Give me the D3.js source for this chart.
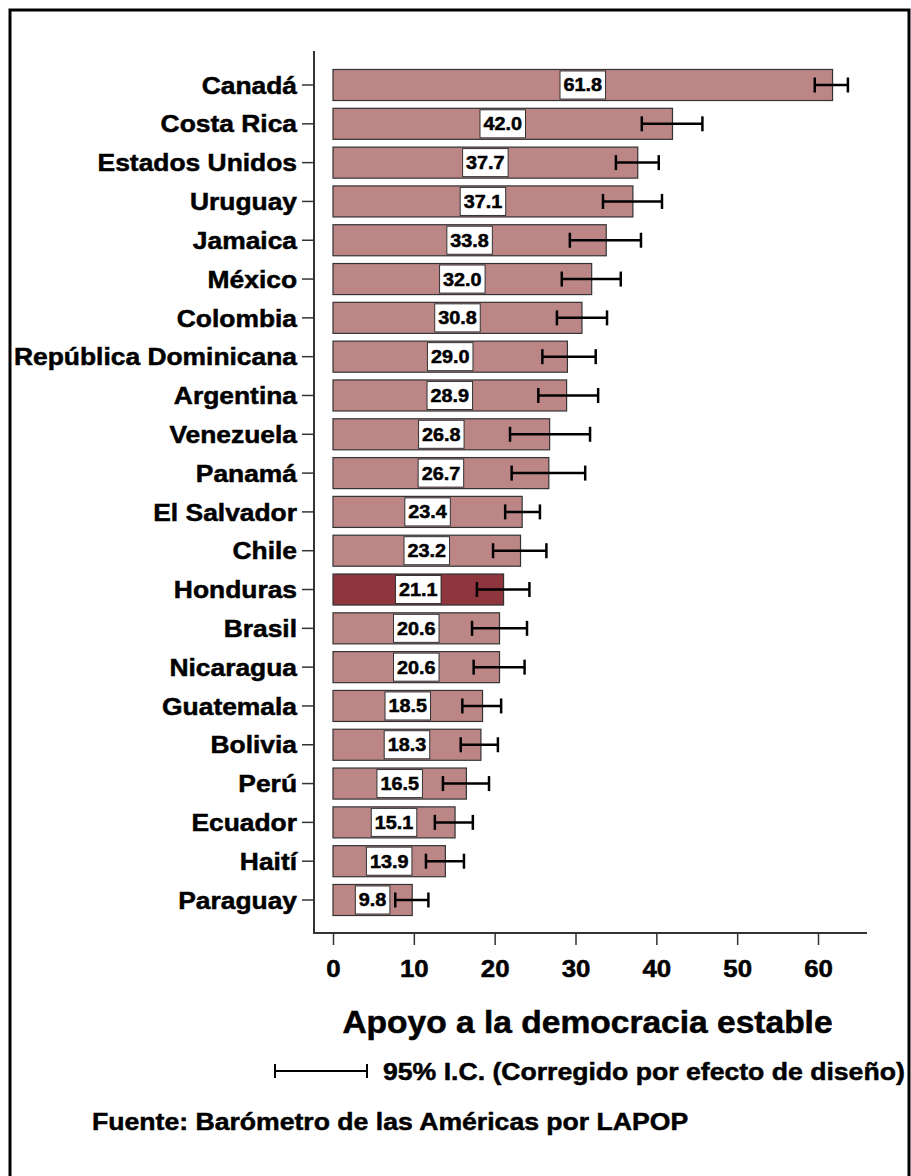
<!DOCTYPE html>
<html><head><meta charset="utf-8">
<script src="https://cdn.jsdelivr.net/npm/d3@7"></script>
<style>body{margin:0;background:#fff}svg{display:block}text{font-family:"Liberation Sans",Arial,sans-serif;font-weight:bold;fill:#000;stroke:#000;stroke-width:0.5px}</style>
</head><body>
<script>
const countries = ["Canadá","Costa Rica","Estados Unidos","Uruguay","Jamaica","México","Colombia","República Dominicana","Argentina","Venezuela","Panamá","El Salvador","Chile","Honduras","Brasil","Nicaragua","Guatemala","Bolivia","Perú","Ecuador","Haití","Paraguay"];
const values = [61.8,42.0,37.7,37.1,33.8,32.0,30.8,29.0,28.9,26.8,26.7,23.4,23.2,21.1,20.6,20.6,18.5,18.3,16.5,15.1,13.9,9.8];
const ciLow  = [59.6,38.2,35.0,33.4,29.3,28.3,27.7,25.9,25.4,21.9,22.1,21.3,19.8,17.8,17.2,17.4,16.0,15.8,13.6,12.6,11.5,7.7];
const ciHigh = [63.7,45.7,40.3,40.7,38.1,35.6,33.9,32.5,32.8,31.8,31.2,25.6,26.4,24.3,24.0,23.7,20.8,20.4,19.3,17.3,16.2,11.8];
const highlight = "Honduras";
const xTicks = [0,10,20,30,40,50,60];
const xTitle = "Apoyo a la democracia estable";
const legendText = "95% I.C. (Corregido por efecto de diseño)";
const sourceText = "Fuente: Barómetro de las Américas por LAPOP";

const W = 911, H = 1176, SX = 1.1;
const svg = d3.select("body").append("svg").attr("width", W).attr("height", H);

svg.append("rect").attr("x",10).attr("y",10).attr("width",899).attr("height",1200)
  .attr("fill","none").attr("stroke","#000").attr("stroke-width",3);

const x = d3.scaleLinear().domain([0,66]).range([333,866.5]);
const y = d3.scaleBand().domain(countries).range([65.6,919.4]).paddingInner(0.2).paddingOuter(0.1);

function stext(g, tx, ty, str, size, anchor){
  return g.append("text").attr("transform",`translate(${tx},${ty}) scale(${SX},1)`)
    .attr("font-size",size).attr("text-anchor",anchor||"start").text(str);
}

const axisColor = "#333";
svg.append("line").attr("x1",314).attr("x2",314).attr("y1",51).attr("y2",933).attr("stroke",axisColor).attr("stroke-width",2);
svg.append("line").attr("x1",313).attr("x2",867).attr("y1",933).attr("y2",933).attr("stroke",axisColor).attr("stroke-width",2);

const yAxis = d3.axisLeft(y).tickSize(12).tickPadding(5);
const gy = svg.append("g").attr("transform","translate(314,0)").call(yAxis);
gy.select(".domain").remove();
gy.selectAll(".tick line").attr("stroke",axisColor).attr("stroke-width",1.5);
gy.selectAll(".tick text").attr("font-size",24).attr("fill","#000")
  .attr("font-family",'"Liberation Sans",Arial,sans-serif').attr("font-weight","bold")
  .attr("transform",`scale(${SX},1)`).attr("x",-17/SX).attr("dy","0.36em");

const xAxis = d3.axisBottom(x).tickValues(xTicks).tickSize(12).tickPadding(14).tickFormat(d3.format("d"));
const gx = svg.append("g").attr("transform","translate(0,933)").call(xAxis);
gx.select(".domain").remove();
gx.selectAll(".tick line").attr("stroke",axisColor).attr("stroke-width",1.5);
gx.selectAll(".tick text").attr("font-size",23.5).attr("fill","#000")
  .attr("font-family",'"Liberation Sans",Arial,sans-serif').attr("font-weight","bold")
  .attr("transform",`scale(${SX},1)`).attr("dy","0.76em");

const data = countries.map((c,i)=>({c, v:values[i], lo:ciLow[i], hi:ciHigh[i]}));
const bars = svg.append("g");
bars.selectAll("rect").data(data).join("rect")
  .attr("x", x(0)).attr("y", d=>y(d.c))
  .attr("width", d=>x(d.v)-x(0)).attr("height", y.bandwidth())
  .attr("fill", d=>d.c===highlight ? "#8f353d" : "#bc8686")
  .attr("stroke","#333").attr("stroke-width",1.2);

const lab = svg.append("g");
data.forEach(d=>{
  const cx = (x(0)+x(d.v))/2, cy = y(d.c)+y.bandwidth()/2;
  const g = lab.append("g");
  const r = g.append("rect");
  const t = g.append("text").attr("transform",`translate(${cx},${cy}) scale(${SX},1)`)
    .attr("font-size",18).attr("text-anchor","middle").attr("dy","0.36em").text(d.v.toFixed(1));
  const w = t.node().getComputedTextLength()*SX + 7;
  r.attr("x",cx-w/2).attr("y",y(d.c)+1.5).attr("width",w).attr("height",y.bandwidth()-3)
   .attr("fill","#fff").attr("stroke","#333").attr("stroke-width",1);
});

const eb = svg.append("g").attr("stroke","#000").attr("stroke-width",2.5);
data.forEach(d=>{
  const cy = y(d.c)+y.bandwidth()/2;
  eb.append("line").attr("x1",x(d.lo)).attr("x2",x(d.hi)).attr("y1",cy).attr("y2",cy);
  eb.append("line").attr("x1",x(d.lo)).attr("x2",x(d.lo)).attr("y1",cy-7.5).attr("y2",cy+7.5);
  eb.append("line").attr("x1",x(d.hi)).attr("x2",x(d.hi)).attr("y1",cy-7.5).attr("y2",cy+7.5);
});

stext(svg, 587.5, 1033, xTitle, 30.5, "middle");

const lg = svg.append("g").attr("stroke","#000").attr("stroke-width",2);
lg.append("line").attr("x1",275).attr("x2",367).attr("y1",1071).attr("y2",1071);
lg.append("line").attr("x1",275).attr("x2",275).attr("y1",1064).attr("y2",1078);
lg.append("line").attr("x1",367).attr("x2",367).attr("y1",1064).attr("y2",1078);
stext(svg, 383, 1080, legendText, 24.2, "start");

stext(svg, 92, 1130, sourceText, 24.2, "start");
</script>
</body></html>
